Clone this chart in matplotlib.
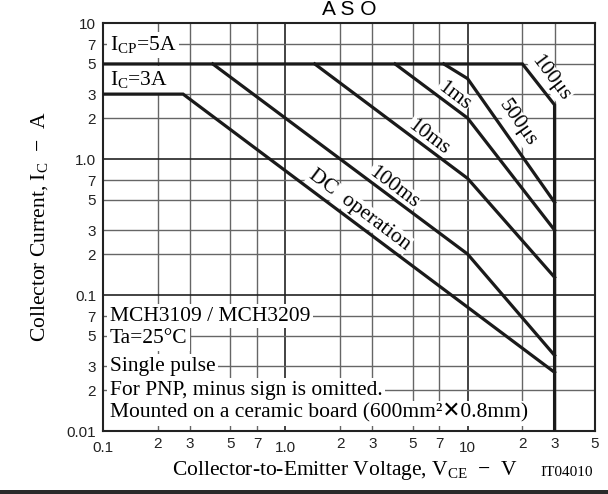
import matplotlib
matplotlib.use('Agg')
import matplotlib.pyplot as plt
from matplotlib.ticker import FixedLocator, FixedFormatter
from matplotlib.patches import Rectangle

plt.rcParams['font.family'] = ['Liberation Serif', 'DejaVu Sans']
plt.rcParams['mathtext.fontset'] = 'custom'
plt.rcParams['mathtext.rm'] = 'Liberation Serif'
plt.rcParams['mathtext.it'] = 'Liberation Serif:italic'

# Safe operating area curves (V_CE in V, I_C in A)
v_icp = [0.1, 20, 30, 30]
i_icp = [5, 5, 2.5, 0.01]
v_dc = [0.1, 0.275, 30]
i_dc = [3, 3, 0.027]
v_100ms = [0.4, 10, 30]
i_100ms = [5, 0.2, 0.036]
v_10ms = [1.45, 10, 30]
i_10ms = [5, 0.72, 0.135]
v_1ms = [4.0, 10, 30]
i_1ms = [5, 2.0, 0.30]
v_500us = [7.4, 10, 30]
i_500us = [5, 3.9, 0.48]

x_major = [0.1, 1, 10]
x_major_labels = ['0.1', '1.0', '10']
x_minor = [0.2, 0.3, 0.5, 0.7, 2, 3, 5, 7, 20, 30, 50]
x_minor_labels = ['2', '3', '5', '7', '2', '3', '5', '7', '2', '3', '5']
y_major = [0.01, 0.1, 1, 10]
y_major_labels = ['0.01', '0.1', '1.0', '10']
y_minor = [0.02, 0.03, 0.05, 0.07, 0.2, 0.3, 0.5, 0.7, 2, 3, 5, 7]
y_minor_labels = ['2', '3', '5', '7'] * 3

notes = ['MCH3109 / MCH3209', 'Ta=25°C', 'Single pulse',
         'For PNP, minus sign is omitted.',
         'Mounted on a ceramic board (600mm²✕0.8mm)']
note_y = [0.07, 0.048, 0.03, 0.02, 0.0135]

fig = plt.figure(figsize=(6.08, 4.94), dpi=100)
ax = fig.add_axes([103/608, 1-431/494, 492/608, 408/494])
ax.set_xscale('log')
ax.set_yscale('log')
ax.set_xlim(0.1, 50)
ax.set_ylim(0.01, 10)

ax.xaxis.set_major_locator(FixedLocator(x_major))
ax.xaxis.set_major_formatter(FixedFormatter(x_major_labels))
ax.xaxis.set_minor_locator(FixedLocator(x_minor))
ax.xaxis.set_minor_formatter(FixedFormatter(x_minor_labels))
ax.yaxis.set_major_locator(FixedLocator(y_major))
ax.yaxis.set_major_formatter(FixedFormatter(y_major_labels))
ax.yaxis.set_minor_locator(FixedLocator(y_minor))
ax.yaxis.set_minor_formatter(FixedFormatter(y_minor_labels))

for lab in ax.get_xticklabels(which='both') + ax.get_yticklabels(which='both'):
    lab.set_family('Liberation Sans')
ax.tick_params(which='both', length=0, labelsize=11, colors='#222')
ax.tick_params(axis='x', which='major', pad=7)
ax.tick_params(axis='x', which='minor', pad=4)
ax.tick_params(axis='y', which='both', pad=5)

ax.grid(which='major', color='#222222', lw=1.2, zorder=0)
ax.grid(which='minor', color='#666666', lw=1.0, zorder=0)
ax.set_axisbelow(True)
for s in ax.spines.values():
    s.set_linewidth(1.5)
    s.set_color('#222')

lk = dict(color='#1a1a1a', lw=2.3, zorder=4, solid_joinstyle='miter')
ax.plot(v_icp, i_icp, **lk)
ax.plot(v_dc, i_dc, **lk)
ax.plot(v_100ms, i_100ms, **lk)
ax.plot(v_10ms, i_10ms, **lk)
ax.plot(v_1ms, i_1ms, **lk)
ax.plot(v_500us, i_500us, **lk)

box = dict(facecolor='white', edgecolor='none', pad=2)
fs = 15.5

ax.text(0.109, 6.9, r'I$_{\rm CP}$=5A', fontsize=fs, va='center', ha='left', bbox=box, zorder=3)
ax.text(0.109, 3.85, r'I$_{\rm C}$=3A', fontsize=fs, va='center', ha='left', bbox=box, zorder=3)

for t, y in zip(notes, note_y):
    ax.text(0.109, y, t, fontsize=fs, va='center', ha='left', bbox=box, zorder=3)

lbl = dict(fontsize=fs, ha='center', va='center', bbox=dict(facecolor='white', edgecolor='none', pad=0.5), zorder=3)
ax.text(28.6, 3.94, '100μs', rotation=-53, **lbl)
ax.text(18.8, 1.84, '500μs', rotation=-55, **lbl)
ax.text(8.4, 2.9, '1ms', rotation=-37, **lbl)
ax.text(6.1, 1.45, '10ms', rotation=-37, **lbl)
ax.text(3.92, 0.62, '100ms', rotation=-37, **lbl)
ax.text(2.55, 0.42, 'DC  operation', rotation=-37, **lbl)

fig.text(40/608, 1-227/494, r'Collector Current, I$_{\rm C}$  −  A', rotation=90,
         ha='center', va='center', fontsize=fs)
fig.text(345/608, 1-475/494, r'Collector-to-Emitter Voltage, V$_{\rm CE}$  −  V',
         ha='center', va='baseline', fontsize=fs)
fig.text(593/608, 1-476/494, 'IT04010', ha='right', va='baseline', fontsize=11)
fig.text(349/608, 1-15/494, 'A S O', ha='center', va='baseline', fontsize=15,
         family='Liberation Sans')

fig.patches.append(Rectangle((0, 0), 1, 4.5/494, transform=fig.transFigure,
                             facecolor='#2a2a2a', edgecolor='none'))

fig.savefig('out.png', dpi=100)
